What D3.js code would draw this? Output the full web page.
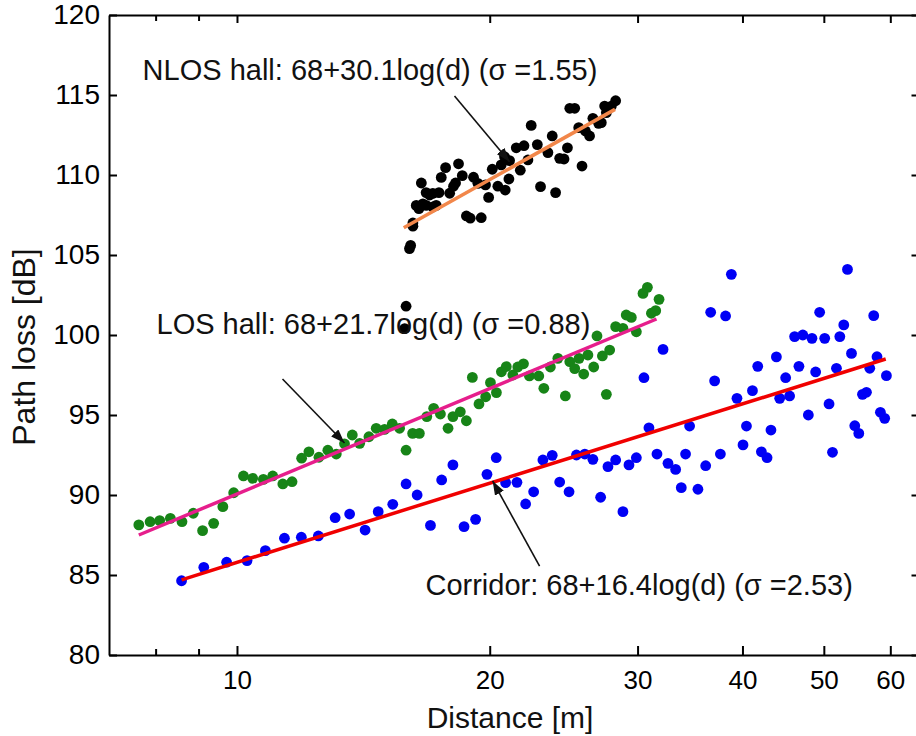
<!DOCTYPE html>
<html>
<head>
<meta charset="utf-8">
<script src="https://cdn.jsdelivr.net/npm/d3@7"></script>
<style>
body { margin: 0; background: #fff; }
svg { display: block; }
.axis text { font-family: "Liberation Sans", Arial, sans-serif; fill: #000; }
.axis path, .axis line { stroke: #000; stroke-width: 2; }
.xaxis text { font-family: "Liberation Sans Narrow", "Liberation Sans", Arial, sans-serif; }
.label { font-family: "Liberation Sans", Arial, sans-serif; fill: #111; }
</style>
</head>
<body>
<div id="chart"></div>
<script>
// measured points, distance [m] and path loss [dB]
var nlosDist = [15.9, 16.05, 16.1, 16.2, 16.2, 16.35, 16.47, 16.65, 16.8, 17.11, 17.27, 16.58, 16.8, 16.96, 17.11, 17.4,
  17.51, 17.72, 17.92, 18.11, 18.21, 18.36, 18.55, 18.76, 18.96, 19.54, 19.13, 19.36, 19.77, 19.94, 20.14, 20.45,
  20.87, 20.64, 20.83, 21.12, 21.08, 21.51, 21.97, 21.75, 22.21, 22.41, 22.79, 22.99, 23.46, 23.74, 23.96, 24.23,
  24.52, 24.75, 24.91, 25.25, 25.53, 25.76, 26.0, 26.3, 26.54, 26.96, 27.16, 27.41, 27.92, 28.25, 27.54, 15.84];
var nlosLoss = [101.8, 105.4, 105.6, 106.8, 107.0, 108.1, 107.9, 108.2, 108.1, 108.0, 108.1, 109.5, 108.9, 108.75, 108.85, 108.9,
  109.85, 110.46, 108.86, 109.3, 109.5, 110.7, 109.96, 107.44, 107.3, 107.33, 109.86, 109.48, 109.38, 108.6, 110.36, 109.3,
  109.06, 110.63, 111.14, 110.9, 109.75, 111.7, 111.83, 110.3, 110.94, 113.1, 111.9, 109.27, 111.4, 112.44, 108.9, 111.04,
  111.0, 111.7, 114.17, 114.17, 112.96, 110.56, 112.75, 112.44, 113.54, 113.23, 113.27, 114.31, 114.31, 114.64, 113.9, 100.4];

var losDist = [7.64, 7.88, 8.09, 8.33, 8.6, 8.87, 9.1, 9.38, 9.62, 9.91, 10.18, 10.44, 10.75, 11.03, 11.34, 11.63,
  11.94, 12.18, 12.52, 12.83, 13.13, 13.43, 13.72, 14.0, 14.36, 14.65, 14.99, 15.31,
  15.62, 15.9, 16.19, 16.49, 16.83, 17.15, 17.47, 17.84, 18.08, 18.45, 18.76, 19.07, 19.42, 19.78, 20.04, 20.37,
  20.65, 20.93, 21.31, 21.6, 21.94, 22.3, 22.88, 23.2, 23.62, 24.11, 24.61, 24.91, 25.25, 25.55, 25.88, 26.18,
  26.6, 26.84, 27.24, 27.54, 27.79, 28.25, 28.82, 29.08, 29.49, 29.9, 30.45, 30.82, 31.16, 31.53, 31.82];
var losLoss = [88.13, 88.33, 88.4, 88.54, 88.33, 88.86, 87.77, 88.23, 89.27, 90.14, 91.19, 91.04, 90.98, 91.19, 90.69, 90.83,
  92.3, 92.7, 92.36, 92.8, 92.56, 93.2, 93.75, 93.23, 93.64, 94.17, 94.1, 94.44,
  94.17, 92.8, 93.85, 93.85, 94.9, 95.42, 95.06, 94.17, 94.9, 95.2, 94.64, 97.35, 95.69, 96.14, 97.02, 96.4,
  97.7, 98.02, 97.5, 98.0, 98.2, 97.44, 97.44, 96.67, 98.0, 98.54, 96.19, 98.33, 97.9, 98.54, 97.56, 98.75,
  98.0, 99.94, 98.69, 96.29, 99.06, 100.52, 100.42, 101.25, 101.1, 100.2, 102.6, 102.98, 101.36, 101.52, 102.23];

var corrDist = [8.59, 9.13, 9.72, 10.28, 10.81, 11.39, 11.93, 12.5, 13.09, 13.62, 14.21, 14.73, 15.33, 15.9, 16.39, 17.0, 17.53,
  18.08, 18.64, 19.24, 19.85, 20.36, 20.89, 21.55, 22.07, 22.56, 23.14, 23.74, 24.23, 24.86, 25.37, 25.96, 26.54,
  27.11, 27.66, 28.25, 28.82, 29.3, 29.9, 30.53, 30.95, 31.64, 32.17, 32.61, 33.3, 33.82, 34.22, 34.6,
  35.4, 36.16, 36.66, 37.06, 37.65, 38.19, 38.8, 39.4, 40.06, 40.44, 41.11, 41.71, 42.13, 42.79, 43.25, 43.9,
  44.3, 45.03, 45.52, 46.15, 47.2, 46.7, 47.92, 48.4, 48.89, 49.43, 50.12, 50.72, 51.2, 51.76, 52.24, 52.81,
  53.35, 53.94, 54.43, 55.03, 55.59, 56.2, 56.71, 57.33, 57.85, 58.39, 59.08, 59.36];
var corrLoss = [84.64, 85.48, 85.8, 85.9, 86.52, 87.3, 87.36, 87.44, 88.58, 88.81, 87.81, 88.96, 89.42, 90.69, 90.0, 88.1, 90.94,
  91.88, 88.02, 88.48, 91.29, 92.33, 90.77, 90.79, 89.44, 90.2, 92.19, 92.48, 90.81, 90.2, 92.5, 92.56, 92.23,
  89.86, 91.77, 92.19, 88.96, 91.88, 92.33, 97.33, 94.2, 92.56, 99.1, 91.98, 91.6, 90.46, 92.56, 94.31,
  90.36, 91.83, 101.42, 97.13, 92.56, 101.19, 103.79, 96.04, 93.13, 94.31, 96.52, 98.04, 92.7, 92.33, 94.06, 98.63,
  96.04, 97.33, 96.19, 99.9, 100.0, 98.04, 95.0, 99.79, 97.69, 101.42, 99.79, 95.69, 92.67, 97.92, 99.9, 100.63,
  104.1, 98.85, 94.33, 93.85, 96.29, 96.42, 97.92, 101.21, 98.64, 95.17, 94.79, 97.46];

// fitted lines (end points)
var nlosFitDist = [15.8, 28.2], nlosFitLoss = [106.7, 114.1];
var losFitDist = [7.64, 31.6], losFitLoss = [87.5, 101.0];
var corrFitDist = [8.59, 59.25], corrFitLoss = [84.7, 98.5];

// ticks
var xMajor = [10, 20, 30, 40, 50, 60];
var xMinor = [8, 9];
var yTicks = [80, 85, 90, 95, 100, 105, 110, 115, 120];

// annotation texts with anchor [dist, loss] and arrow [from, to]
var labelText = ["NLOS hall: 68+30.1log(d) (\u03c3 =1.55)", "LOS hall: 68+21.7log(d) (\u03c3 =0.88)", "Corridor: 68+16.4log(d) (\u03c3 =2.53)"];
var labelDist = [7.72, 8.02, 16.77];
var labelLoss = [115.94, 100.06, 83.75];
var arrowFrom = [[18.16, 114.94], [11.33, 97.25], [22.93, 85.56]];
var arrowTo = [[21.12, 110.83], [13.43, 93.25], [20.16, 90.88]];

var width = 916, height = 736;

var svg = d3.select("#chart").append("svg")
    .attr("width", width)
    .attr("height", height);

var x = d3.scaleLog().domain([7.04, 65]).range([109, 919.5]);
var y = d3.scaleLinear().domain([80, 120]).range([655, 15]);

function pairs(a, b) {
  return a.map(function(d, i) { return {d: d, pl: b[i]}; });
}

// axes, ticks pointing inward
var xTickVals = xMinor.concat(xMajor);
var xAxisB = svg.append("g")
    .attr("class", "axis xaxis")
    .attr("transform", "translate(0," + y(80) + ")")
    .call(d3.axisBottom(x).tickValues(xTickVals).tickSizeInner(-9).tickSizeOuter(0).tickPadding(16)
      .tickFormat(function(d) { return xMajor.indexOf(d) >= 0 ? d : ""; }));
xAxisB.selectAll("text").style("font-size", "26px");

var xAxisT = svg.append("g")
    .attr("class", "axis")
    .attr("transform", "translate(0," + y(120) + ")")
    .call(d3.axisTop(x).tickValues(xTickVals).tickSizeInner(-8).tickSizeOuter(0).tickFormat(""));

[xAxisB, xAxisT].forEach(function(g) {
  g.selectAll(".tick").filter(function(d) { return xMinor.indexOf(d) >= 0; })
    .select("line").attr("y2", g === xAxisB ? -6 : 6);
});

var yAxisL = svg.append("g")
    .attr("class", "axis")
    .attr("transform", "translate(" + x.range()[0] + ",0)")
    .call(d3.axisLeft(y).tickValues(yTicks).tickSizeInner(-8).tickSizeOuter(0).tickPadding(9));
yAxisL.selectAll("text").style("font-size", "28px");

svg.append("g")
    .attr("class", "axis")
    .attr("transform", "translate(" + x.range()[1] + ",0)")
    .call(d3.axisRight(y).tickValues(yTicks).tickSizeInner(-8).tickSizeOuter(0).tickFormat(""));

svg.append("text")
    .attr("class", "label")
    .attr("x", 510)
    .attr("y", 728)
    .attr("text-anchor", "middle")
    .style("font-size", "30px")
    .text("Distance [m]");

svg.append("text")
    .attr("class", "label")
    .attr("transform", "translate(35,347) rotate(-90)")
    .attr("text-anchor", "middle")
    .style("font-size", "32px")
    .text("Path loss [dB]");

// scatter points
var series = [
  {pts: pairs(nlosDist, nlosLoss), color: "#000000"},
  {pts: pairs(losDist, losLoss), color: "#178417"},
  {pts: pairs(corrDist, corrLoss), color: "#0000f5"}
];

series.forEach(function(s) {
  svg.append("g").selectAll("circle")
    .data(s.pts)
    .enter().append("circle")
    .attr("cx", function(d) { return x(d.d); })
    .attr("cy", function(d) { return y(d.pl); })
    .attr("r", 5.4)
    .style("fill", s.color);
});

// fitted lines
var line = d3.line()
    .x(function(d) { return x(d.d); })
    .y(function(d) { return y(d.pl); });

var fits = [
  {pts: pairs(nlosFitDist, nlosFitLoss), color: "#f2874a"},
  {pts: pairs(losFitDist, losFitLoss), color: "#e61e8c"},
  {pts: pairs(corrFitDist, corrFitLoss), color: "#f00000"}
];

fits.forEach(function(f) {
  svg.append("path")
    .datum(f.pts)
    .attr("d", line)
    .attr("fill", "none")
    .attr("stroke", f.color)
    .attr("stroke-width", 3.5);
});

// arrows + labels
svg.append("defs").append("marker")
    .attr("id", "head")
    .attr("viewBox", "0 0 14 10")
    .attr("refX", 14)
    .attr("refY", 5)
    .attr("markerWidth", 14)
    .attr("markerHeight", 10)
    .attr("markerUnits", "userSpaceOnUse")
    .attr("orient", "auto")
  .append("path")
    .attr("d", "M0,0L14,5L0,10z")
    .style("fill", "#111");

arrowFrom.forEach(function(a, i) {
  svg.append("line")
    .attr("x1", x(a[0]))
    .attr("y1", y(a[1]))
    .attr("x2", x(arrowTo[i][0]))
    .attr("y2", y(arrowTo[i][1]))
    .attr("stroke", "#111")
    .attr("stroke-width", 1.6)
    .attr("marker-end", "url(#head)");
});

labelText.forEach(function(t, i) {
  svg.append("text")
    .attr("class", "label")
    .attr("x", x(labelDist[i]))
    .attr("y", y(labelLoss[i]))
    .style("font-size", "29px")
    .text(t);
});
</script>
</body>
</html>
